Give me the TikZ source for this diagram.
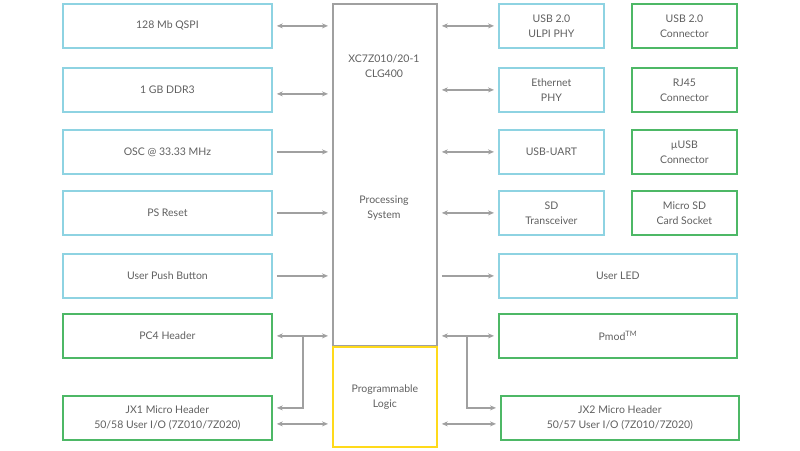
\documentclass[tikz,border=0pt]{standalone}
\usepackage{fontspec}
\setmainfont{Lato}
\usetikzlibrary{arrows.meta}
\definecolor{bl}{HTML}{8ED3E2}
\definecolor{gr}{HTML}{4DB866}
\definecolor{yl}{HTML}{FFDA1A}
\definecolor{gy}{HTML}{A0A0A0}
\definecolor{tx}{HTML}{606060}
\begin{document}
\begin{tikzpicture}[x=1pt,y=-1pt,
  box/.style={draw=#1,line width=1.8pt,minimum height=44pt,align=center,text=tx,font=\fontsize{10.5}{15}\selectfont,inner sep=0pt},
  ar/.style={draw=gy,line width=1.2pt,-{Stealth[length=6pt,width=5pt]}},
  dar/.style={draw=gy,line width=1.2pt,{Stealth[length=6pt,width=5pt]}-{Stealth[length=6pt,width=5pt]}}]
\useasboundingbox (0,0) rectangle (800,450);
\fill[white] (0,0) rectangle (800,450);
\tikzset{L/.style={box=#1,minimum width=209pt,anchor=north west}}
\node[L=bl] (l1) at (62,3) {128 Mb QSPI};
\node[L=bl] (l2) at (62,67) {1 GB DDR3};
\node[L=bl] (l3) at (62,129) {OSC @ 33.33 MHz};
\node[L=bl] (l4) at (62,190) {PS Reset};
\node[L=bl] (l5) at (62,253) {User Push Button};
\node[L=gr] (l6) at (62,313) {PC4 Header};
\node[L=gr] (l7) at (62,395) {JX1 Micro Header\\50/58 User I/O (7Z010/7Z020)};
\node[box=gy,minimum width=104pt,minimum height=342pt,anchor=north west] (ps) at (332,3) {};
\node[box=yl,minimum width=104pt,minimum height=100pt,anchor=north west] (pl) at (332,346) {Programmable\\Logic};
\node[text=tx,font=\fontsize{10.5}{15}\selectfont,align=center] (t1) at (384,66) {XC7Z010/20-1\\CLG400};
\node[text=tx,font=\fontsize{10.5}{15}\selectfont,align=center] (t2) at (384,208) {Processing\\System};
\tikzset{R/.style={box=#1,minimum width=105pt,anchor=north west}}
\node[R=bl] (r1) at (498,3) {USB 2.0\\ULPI PHY};
\node[R=gr] (s1) at (631,3) {USB 2.0\\Connector};
\node[R=bl] (r2) at (498,67) {Ethernet\\PHY};
\node[R=gr] (s2) at (631,67) {RJ45\\Connector};
\node[R=bl] (r3) at (498,129) {USB-UART};
\node[R=gr] (s3) at (631,129) {µUSB\\Connector};
\node[R=bl] (r4) at (498,190) {SD\\Transceiver};
\node[R=gr] (s4) at (631,190) {Micro SD\\Card Socket};
\node[L=bl,minimum width=238pt] (r5) at (498,253) {User LED};
\node[L=gr,minimum width=238pt] (r6) at (498,313) {Pmod\textsuperscript{TM}};
\node[L=gr,minimum width=238pt] (r7) at (500,395) {JX2 Micro Header\\50/57 User I/O (7Z010/7Z020)};
% left arrows
\draw[dar] ([xshift=4pt]l1.east) -- ([xshift=-4pt]ps.west |- l1.east);
\draw[dar] ([xshift=4pt,yshift=-4pt]l2.east) -- ([xshift=-4pt,yshift=-4pt]ps.west |- l2.east);
\foreach \n in {l3,l4,l5}
  \draw[ar] ([xshift=4pt]\n.east) -- ([xshift=-4pt]ps.west |- \n.east);
\draw[dar] ([xshift=4pt]l6.east) -- ([xshift=-4pt]ps.west |- l6.east);
\coordinate (lj) at (303,336);
\draw[ar] (lj) |- ([xshift=4pt,yshift=10pt]l7.east);
\draw[dar] ([xshift=4pt,yshift=-6pt]l7.east) -- ([xshift=-4pt,yshift=-6pt]pl.west |- l7.east);
% right arrows
\foreach \n in {r1,r2,r3,r4}
  \draw[dar] ([xshift=4pt]ps.east |- \n.west) -- ([xshift=-4pt]\n.west);
\draw[ar] ([xshift=4pt]ps.east |- r5.west) -- ([xshift=-4pt]r5.west);
\draw[dar] ([xshift=4pt]ps.east |- r6.west) -- ([xshift=-4pt]r6.west);
\coordinate (rj) at (467,336);
\draw[ar] (rj) |- ([xshift=-4pt,yshift=10pt]r7.west);
\draw[dar] ([xshift=4pt,yshift=-6pt]pl.east |- r7.west) -- ([xshift=-4pt,yshift=-6pt]r7.west);
\end{tikzpicture}
\end{document}
